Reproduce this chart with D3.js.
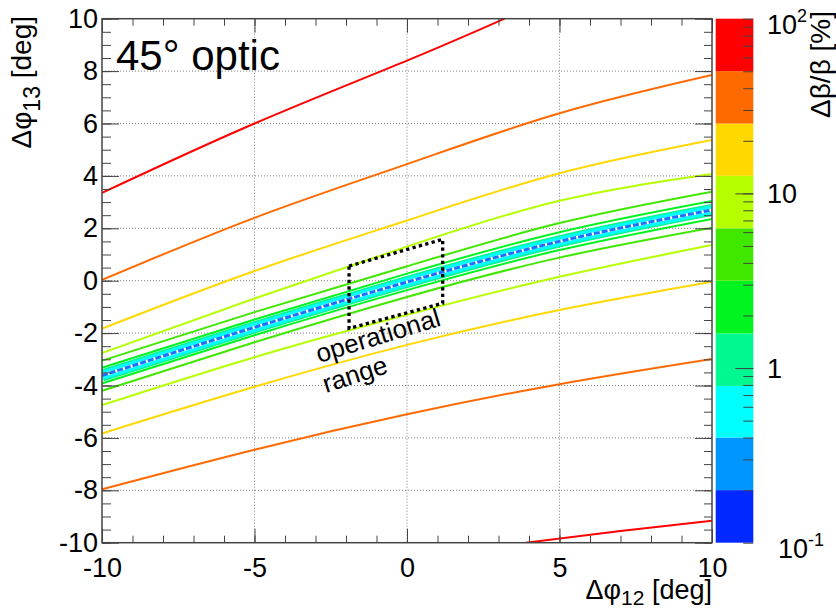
<!DOCTYPE html>
<html>
<head>
<meta charset="utf-8">
<script src="https://cdn.jsdelivr.net/npm/d3@7"></script>
<style>
body { margin: 0; background: #fff; }
text { font-family: "Liberation Sans", Arial, sans-serif; fill: #000; }
</style>
</head>
<body>
<svg id="chart" width="836" height="610"></svg>
<script>
// axis ticks
var xTicks = [-10, -5, 0, 5, 10];
var yTicks = [-10, -8, -6, -4, -2, 0, 2, 4, 6, 8, 10];
var gridX = [-5, 0, 5];
var gridY = [-8, -6, -4, -2, 0, 2, 4, 6, 8];

// colour bands of the z axis (Δβ/β in %), low to high
var bandEdges = [0.1, 0.2, 0.4, 0.79, 1.58, 3.16, 6.31, 12.6, 25.1, 50.1, 100];
var bandColors = ['#0028ff', '#0096ff', '#00ffff', '#00f890', '#00f520',
                  '#40e800', '#b5ff00', '#ffd800', '#ff6a00', '#ff0000'];

// contour lines, [Δφ12, Δφ13]
var centerLine  = [[-10, -3.62], [-5, -1.78], [0, -0.05], [5, 1.5], [10, 2.7]];
var greenInUp   = [[-10, -3.32], [-5, -1.48], [0, 0.27], [5, 1.85], [10, 3.04]];
var greenOutUp  = [[-10, -3.05], [-5, -1.2], [0, 0.55], [5, 2.2], [10, 3.4]];
var greenInLow  = [[-10, -3.92], [-5, -2.08], [0, -0.36], [5, 1.17], [10, 2.36]];
var greenOutLow = [[-10, -4.2], [-5, -2.35], [0, -0.62], [5, 0.88], [10, 2.02]];
var ygUp        = [[-10, -2.76], [-5, -0.68], [0, 1.3], [5, 3.05], [10, 4.07]];
var ygLow       = [[-10, -4.75], [-5, -2.92], [0, -1.3], [5, 0.15], [10, 1.36]];
var goldUp      = [[-10, -1.83], [-5, 0.37], [0, 2.3], [5, 4.1], [10, 5.37]];
var goldLow     = [[-10, -5.83], [-5, -4.05], [0, -2.45], [5, -1.12], [10, -0.04]];
var orangeUp    = [[-10, 0.03], [-5, 2.4], [0, 4.45], [5, 6.39], [10, 7.85]];
var orangeLow   = [[-10, -7.96], [-5, -6.45], [0, -5.1], [5, -3.95], [10, -2.99]];
var redUp       = [[-10, 3.35], [-5, 6.0], [0, 8.4], [3.2, 10]];
var redLow      = [[3.9, -10], [7, -9.55], [10, -9.16]];

// which band colour each line takes
var contourLines = [
    {level: 4, pts: greenInUp}, {level: 4, pts: greenInLow},
    {level: 5, pts: greenOutUp}, {level: 5, pts: greenOutLow},
    {level: 6, pts: ygUp}, {level: 6, pts: ygLow},
    {level: 7, pts: goldUp}, {level: 7, pts: goldLow},
    {level: 8, pts: orangeUp}, {level: 8, pts: orangeLow},
    {level: 9, pts: redUp}, {level: 9, pts: redLow}
];

// operational range box corners
var opRange = [[-1.9, 0.56], [1.17, 1.58], [1.17, -0.86], [-1.9, -1.82]];

var svg = d3.select("#chart");
var pLeft = 102, pRight = 712, pTop = 18.7, pBottom = 542.7;

var x = d3.scaleLinear().domain([-10, 10]).range([pLeft, pRight]);
var y = d3.scaleLinear().domain([-10, 10]).range([pBottom, pTop]);
var z = d3.scaleLog().domain([0.1, 100]).range([pBottom, pTop]);

svg.append("rect").attr("width", 836).attr("height", 610).attr("fill", "#fff");

svg.append("defs").append("clipPath").attr("id", "plotClip")
    .append("rect")
    .attr("x", pLeft).attr("y", pTop)
    .attr("width", pRight - pLeft).attr("height", pBottom - pTop);

// grid
var grid = svg.append("g")
    .attr("stroke", "#808080")
    .attr("stroke-width", 1)
    .attr("stroke-dasharray", "1,2");
grid.selectAll(".gx").data(gridX).enter().append("line")
    .attr("x1", function (d) { return x(d); })
    .attr("x2", function (d) { return x(d); })
    .attr("y1", pTop).attr("y2", pBottom);
grid.selectAll(".gy").data(gridY).enter().append("line")
    .attr("y1", function (d) { return y(d); })
    .attr("y2", function (d) { return y(d); })
    .attr("x1", pLeft).attr("x2", pRight);

// contour lines
var line = d3.line()
    .x(function (d) { return x(d[0]); })
    .y(function (d) { return y(d[1]); })
    .curve(d3.curveNatural);

var plot = svg.append("g").attr("clip-path", "url(#plotClip)");
plot.selectAll(".contour").data(contourLines).enter().append("path")
    .attr("d", function (d) { return line(d.pts); })
    .attr("fill", "none")
    .attr("stroke", function (d) { return bandColors[d.level]; })
    .attr("stroke-width", 2);

// the minimum valley: narrow bands around the centre
plot.append("path").attr("d", line(centerLine))
    .attr("fill", "none").attr("stroke", bandColors[3]).attr("stroke-width", 12);
plot.append("path").attr("d", line(centerLine))
    .attr("fill", "none").attr("stroke", bandColors[2]).attr("stroke-width", 9);
plot.append("path").attr("d", line(centerLine))
    .attr("fill", "none").attr("stroke", "#fff").attr("stroke-width", 3);
plot.append("path").attr("d", line(centerLine))
    .attr("fill", "none").attr("stroke", "#1f6fff").attr("stroke-width", 3)
    .attr("stroke-dasharray", "6,2");

// operational range box
svg.append("path")
    .attr("d", d3.line()
        .x(function (d) { return x(d[0]); })
        .y(function (d) { return y(d[1]); })
        .curve(d3.curveLinearClosed)(opRange))
    .attr("fill", "none")
    .attr("stroke", "#000")
    .attr("stroke-width", 3.3)
    .attr("stroke-dasharray", "3.3,3.3");

svg.append("text")
    .attr("transform", "translate(319,363) rotate(-17)")
    .attr("font-size", 26)
    .text("operational");
svg.append("text")
    .attr("transform", "translate(326,393) rotate(-18)")
    .attr("font-size", 26)
    .text("range");

// axes, ROOT style ticks pointing inwards
function styleAxis(g) {
    g.select(".domain").remove();
    g.selectAll(".tick line").attr("stroke", "#444");
    g.selectAll("text").attr("font-size", 27).attr("fill", "#000")
        .attr("font-family", "Liberation Sans, Arial, sans-serif");
}
function fmt(d) { return String(d); }

svg.append("g").attr("transform", "translate(0," + pBottom + ")")
    .call(d3.axisBottom(x).tickValues(d3.range(-10, 10.5, 1)).tickSize(-7).tickFormat(""))
    .call(styleAxis);
svg.append("g").attr("transform", "translate(0," + pBottom + ")")
    .call(d3.axisBottom(x).tickValues(xTicks).tickSize(-14).tickPadding(15).tickFormat(fmt))
    .call(styleAxis);
svg.append("g").attr("transform", "translate(0," + pTop + ")")
    .call(d3.axisTop(x).tickValues(d3.range(-10, 10.5, 1)).tickSize(-7).tickFormat(""))
    .call(styleAxis);
svg.append("g").attr("transform", "translate(0," + pTop + ")")
    .call(d3.axisTop(x).tickValues(xTicks).tickSize(-14).tickFormat(""))
    .call(styleAxis);

svg.append("g").attr("transform", "translate(" + pLeft + ",0)")
    .call(d3.axisLeft(y).tickValues(d3.range(-10, 10.25, 0.5)).tickSize(-9).tickFormat(""))
    .call(styleAxis);
svg.append("g").attr("transform", "translate(" + pLeft + ",0)")
    .call(d3.axisLeft(y).tickValues(yTicks).tickSize(-17).tickPadding(4).tickFormat(fmt))
    .call(styleAxis);
svg.append("g").attr("transform", "translate(" + pRight + ",0)")
    .call(d3.axisRight(y).tickValues(d3.range(-10, 10.25, 0.5)).tickSize(-8).tickFormat(""))
    .call(styleAxis);
svg.append("g").attr("transform", "translate(" + pRight + ",0)")
    .call(d3.axisRight(y).tickValues(yTicks).tickSize(-17).tickFormat(""))
    .call(styleAxis);

// frame
svg.append("rect")
    .attr("x", pLeft).attr("y", pTop)
    .attr("width", pRight - pLeft).attr("height", pBottom - pTop)
    .attr("fill", "none").attr("stroke", "#444").attr("stroke-width", 1.5);

svg.append("text").attr("x", 116).attr("y", 70)
    .attr("font-size", 42).text("45° optic");

// axis titles
var xt = svg.append("text").attr("x", pRight).attr("y", 599)
    .attr("text-anchor", "end").attr("font-size", 27);
xt.append("tspan").text("Δφ");
xt.append("tspan").attr("font-size", 21).attr("dy", 6).text("12");
xt.append("tspan").attr("dy", -6).text(" [deg]");

var yt = svg.append("text").attr("transform", "translate(31,16) rotate(-90)")
    .attr("text-anchor", "end").attr("font-size", 28);
yt.append("tspan").text("Δφ");
yt.append("tspan").attr("font-size", 23).attr("dy", 9).text("13");
yt.append("tspan").attr("dy", -9).text(" [deg]");

// colour bar
var cbX0 = 715.7, cbX1 = 753.3;
svg.append("g").selectAll("rect").data(bandColors).enter().append("rect")
    .attr("x", cbX0)
    .attr("width", cbX1 - cbX0)
    .attr("y", function (d, i) { return z(bandEdges[i + 1]); })
    .attr("height", function (d, i) { return z(bandEdges[i]) - z(bandEdges[i + 1]); })
    .attr("fill", function (d) { return d; });

svg.append("g").attr("transform", "translate(" + cbX1 + ",0)")
    .call(d3.axisRight(z).tickValues(z.ticks()).tickSize(-10).tickFormat(""))
    .call(styleAxis);
svg.append("g").attr("transform", "translate(" + cbX1 + ",0)")
    .call(d3.axisRight(z).tickValues([1, 10]).tickSize(-18).tickFormat(""))
    .call(styleAxis);

var cbLabels = [
    {v: 100, base: "10", exp: "2"},
    {v: 10, base: "10", exp: ""},
    {v: 1, base: "1", exp: ""},
    {v: 0.1, base: "10", exp: "-1"}
];
var cbl = svg.append("g").selectAll("text").data(cbLabels).enter().append("text")
    .attr("x", function (d) { return d.v === 0.1 ? 778 : 767; })
    .attr("y", function (d) {
        if (d.v === 100) return 34;
        if (d.v === 0.1) return 558;
        return z(d.v) + 9.5;
    })
    .attr("font-size", 27);
cbl.append("tspan").text(function (d) { return d.base; });
cbl.append("tspan").attr("font-size", 18).attr("dy", -12)
    .text(function (d) { return d.exp; });

svg.append("text").attr("transform", "translate(830,11) rotate(-90)")
    .attr("text-anchor", "end").attr("font-size", 28)
    .text("Δβ/β [%]");
</script>
</body>
</html>
